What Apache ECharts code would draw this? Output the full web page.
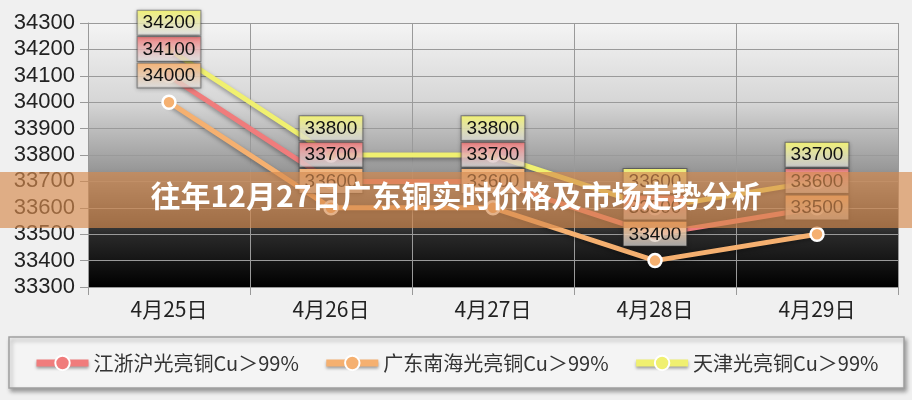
<!DOCTYPE html>
<html>
<head>
<meta charset="utf-8">
<script src="https://cdn.jsdelivr.net/npm/echarts@6/dist/echarts.min.js"></script>
<style>
html, body { margin: 0; padding: 0; background: #f0f0f0; }
#chart { width: 912px; height: 400px; }
</style>
</head>
<body>
<div id="chart"></div>
<script>
var categories = ["4月25日", "4月26日", "4月27日", "4月28日", "4月29日"];
var seriesNames = ["江浙沪光亮铜Cu＞99%", "广东南海光亮铜Cu＞99%", "天津光亮铜Cu＞99%"];
var jiangzheValues = [34100, 33700, 33700, 33500, 33600];
var guangdongValues = [34000, 33600, 33600, 33400, 33500];
var tianjinValues = [34200, 33800, 33800, 33600, 33700];
var colors = ["#f07c7c", "#f5b070", "#f0f070"];
var titleText = "往年12月27日广东铜实时价格及市场走势分析";

var numFont = "Liberation Sans, Arial, sans-serif";
var cjkFont = "Noto Sans CJK SC, sans-serif";

function buildSerie(name, data, color) {
    return {
        name: name,
        type: "line",
        data: data,
        symbol: "circle",
        symbolSize: 13,
        itemStyle: {color: color, borderColor: "#ffffff", borderWidth: 2.5},
        lineStyle: {
            color: color,
            width: 5,
            shadowColor: "rgba(0,0,0,0.35)",
            shadowBlur: 4,
            shadowOffsetY: 2
        },
        label: {
            show: true,
            position: "top",
            distance: 7,
            fontFamily: numFont,
            fontSize: 19,
            color: "#111",
            padding: [3, 5, 2, 5],
            backgroundColor: {
                type: "linear", x: 0, y: 0, x2: 0, y2: 1,
                colorStops: [{offset: 0, color: color}, {offset: 1, color: "rgba(255,255,255,0.6)"}]
            },
            borderColor: "rgba(60,60,60,0.5)",
            borderWidth: 1,
            shadowColor: "rgba(0,0,0,0.4)",
            shadowBlur: 4,
            shadowOffsetY: 1
        },
        emphasis: {disabled: true}
    };
}

var chart = echarts.init(document.getElementById("chart"));
var option = {
    animation: false,
    backgroundColor: "#f0f0f0",
    grid: {
        left: 88, right: 14, top: 23, height: 264,
        show: true,
        borderWidth: 0,
        backgroundColor: {
            type: "linear", x: 0, y: 0, x2: 0, y2: 1,
            colorStops: [
                {offset: 0, color: "#f4f4f4"},
                {offset: 0.3, color: "#d6d6d6"},
                {offset: 0.55, color: "#999999"},
                {offset: 0.8, color: "#2a2a2a"},
                {offset: 1, color: "#000000"}
            ]
        }
    },
    xAxis: {
        type: "category",
        data: categories,
        boundaryGap: true,
        axisLine: {lineStyle: {color: "#999", width: 1}},
        axisTick: {show: true, length: 8, lineStyle: {color: "#999"}},
        axisLabel: {fontFamily: cjkFont, fontSize: 21, color: "#222", margin: 12},
        splitLine: {show: true, lineStyle: {color: "#9a9a9a", width: 1}}
    },
    yAxis: {
        type: "value",
        min: 33300,
        max: 34300,
        interval: 100,
        axisLine: {show: true, lineStyle: {color: "#999"}},
        axisTick: {show: true, length: 8, lineStyle: {color: "#999"}},
        axisLabel: {
            fontFamily: numFont, fontSize: 22, color: "#222", margin: 13,
            formatter: function (v) { return String(v); }
        },
        splitLine: {show: true, lineStyle: {color: "#9a9a9a", width: 1}}
    },
    legend: {
        left: 28,
        top: 348,
        itemWidth: 52,
        itemHeight: 18,
        itemGap: 24,
        data: seriesNames,
        lineStyle: {width: 7, shadowColor: "rgba(0,0,0,0.35)", shadowBlur: 3, shadowOffsetY: 2},
        textStyle: {fontFamily: cjkFont, fontSize: 20, color: "#333"}
    },
    series: [
        buildSerie(seriesNames[0], jiangzheValues, colors[0]),
        buildSerie(seriesNames[1], guangdongValues, colors[1]),
        buildSerie(seriesNames[2], tianjinValues, colors[2])
    ],
    graphic: [
        {
            type: "rect",
            z: -1,
            shape: {x: 9, y: 337, width: 895, height: 51},
            style: {
                fill: "#f4f4f4",
                stroke: "#a0a0a0",
                lineWidth: 1.5,
                shadowColor: "rgba(0,0,0,0.35)",
                shadowBlur: 4,
                shadowOffsetX: 2,
                shadowOffsetY: 3
            }
        },
        {
            type: "rect",
            z: 100,
            shape: {x: 0, y: 172, width: 912, height: 56},
            style: {fill: "rgba(214,138,78,0.66)"}
        },
        {
            type: "text",
            z: 101,
            left: "center",
            top: 181,
            style: {
                text: titleText,
                fill: "#ffffff",
                font: "bold 30px Noto Sans CJK SC, sans-serif"
            }
        }
    ]
};
chart.setOption(option);
</script>
</body>
</html>
